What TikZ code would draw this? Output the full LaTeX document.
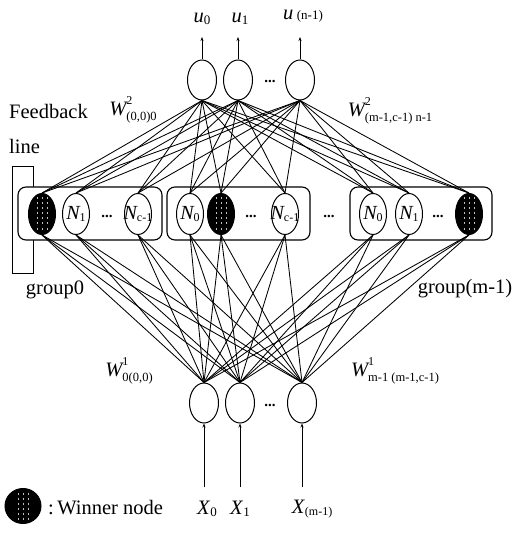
\documentclass[tikz,border=0pt]{standalone}
\usepackage{fontspec}
\setmainfont{Liberation Serif}
\usetikzlibrary{shapes.geometric,arrows.meta}
% weight label: italic W with a superscript stacked over a subscript
\newcommand\wlab[2]{\textit{W}\kern-1.5pt\makebox[0pt][l]{\raisebox{1.15ex}{\fontsize{12}{12}\selectfont #1}}\raisebox{-0.5ex}{\fontsize{12.5}{12}\selectfont #2}}
\newcommand\nlab[1]{\makebox[0pt]{\textit{N}\kern-1pt\raisebox{-0.3ex}{\fontsize{12}{12}\selectfont #1}}}
\begin{document}
\begin{tikzpicture}[x=1pt,y=-1pt,
  neuron/.style={ellipse, draw, line width=1pt, minimum width=29pt, minimum height=40pt,
    inner sep=0pt, fill=white, font=\fontsize{20}{20}\selectfont},
  cell/.style={neuron, minimum width=27pt, minimum height=41pt},
  winner/.style={cell, fill=black, path picture={
      \foreach \dx in {-5,0,5}
        \draw[white!75!black, line width=0.3pt, dash pattern=on 2pt off 3pt]
          ([xshift=\dx pt, yshift=-4pt]path picture bounding box.north) --
          ([xshift=\dx pt, yshift=4pt]path picture bounding box.south);}},
  link/.style={line width=0.85pt},
  io/.style={line width=0.85pt},
  groupbox/.style={draw, line width=1.1pt, rounded corners=8pt, fill=white},
  lbl/.style={font=\fontsize{20.5}{22}\selectfont, inner sep=0pt},
  dots/.style={font=\fontsize{15}{15}\selectfont\bfseries, inner sep=0pt}
]
\useasboundingbox (0,0) rectangle (517,534);

% feedback line, partly hidden behind the first group box
\draw[line width=1pt] (12,167) rectangle (33,273);

% group boxes
\draw[groupbox] (18,187) rectangle (162,240);
\draw[groupbox] (167,187) rectangle (310,240);
\draw[groupbox] (350,187) rectangle (492,240);

% output layer
\node[neuron] (u0) at (202,80) {};
\node[neuron] (u1) at (238,80) {};
\node[neuron] (un) at (300,80) {};
\node[dots] (udots) at (270,82) {...};

% competitive layer
\node[winner] (a1) at (42,214) {};
\node[cell]   (a2) at (76,214) {\nlab{1}};
\node[dots]   (d1) at (107,216) {...};
\node[cell]   (a3) at (138,214) {\nlab{c-1}};
\node[cell]   (a4) at (190,214) {\nlab{0}};
\node[winner] (a5) at (221,214) {};
\node[dots]   (d2) at (251,216) {...};
\node[cell]   (a6) at (285,214) {\nlab{c-1}};
\node[dots]   (d3) at (329,216) {...};
\node[cell]   (a7) at (373,214) {\nlab{0}};
\node[cell]   (a8) at (409,214) {\nlab{1}};
\node[dots]   (d4) at (438,216) {...};
\node[winner] (a9) at (469,214) {};

% input layer
\node[neuron] (x0) at (204,403) {};
\node[neuron] (x1) at (240,403) {};
\node[neuron] (xm) at (302,403) {};
\node[dots] (xdots) at (270,405) {...};

% full connections between the layers
\foreach \m in {1,...,9}{
  \foreach \t in {u0,u1,un}
    \draw[link] (\t.south) -- (a\m.north);
  \foreach \b in {x0,x1,xm}
    \draw[link] (a\m.south) -- (\b.north);
}

% outputs
\coordinate (u0t) at (202,37);
\coordinate (u1t) at (238,37);
\coordinate (unt) at (300,37);
\foreach \n in {u0,u1,un}
  \draw[io,-{Stealth[length=4pt,width=3pt]}] (\n.north) -- (\n t);
\node[lbl] (lu0) at (202,19) {\textit{u}\raisebox{-0.2ex}{\fontsize{13}{13}\selectfont 0}};
\node[lbl] (lu1) at (240,19) {\textit{u}\raisebox{-0.2ex}{\fontsize{13}{13}\selectfont 1}};
\node[lbl] (lun) at (303,16) {\textit{u}\,{\fontsize{13}{13}\selectfont(n-1)}};

% inputs
\coordinate (x0b) at (204,487);
\coordinate (x1b) at (240,487);
\coordinate (xmb) at (302,487);
\foreach \n in {x0,x1,xm}
  \draw[io,-{Stealth[length=4pt,width=3pt]}] (\n b) -- (\n.south);
\node[lbl] (lx0) at (207,509) {\textit{X}\raisebox{-0.2ex}{\fontsize{13}{13}\selectfont 0}};
\node[lbl] (lx1) at (240,509) {\textit{X}\raisebox{-0.2ex}{\fontsize{13}{13}\selectfont 1}};
\node[lbl] (lxm) at (312,509) {\textit{X}\raisebox{-0.3ex}{\fontsize{12}{12}\selectfont(m-1)}};

% text labels
\node[lbl, anchor=west] (fb) at (9,111) {Feedback};
\node[lbl, anchor=west] (fl) at (9,146) {line};
\node[lbl] (g0) at (55,290) {group0};
\node[lbl] (gm) at (465,289) {group(m-1)};
\node[lbl] (w2a) at (133,110) {\wlab{2}{(0,0)0}};
\node[lbl] (w2b) at (390,111) {\wlab{2}{(m-1,c-1) n-1}};
\node[lbl] (w1a) at (129,371) {\wlab{1}{0(0,0)}};
\node[lbl] (w1b) at (395,371) {\wlab{1}{m-1 (m-1,c-1)}};

% legend
\node[winner, minimum width=36pt, minimum height=35pt] (key) at (23,506) {};
\node[lbl, anchor=west] (keytxt) at (48,508) {:\,Winner node};
\end{tikzpicture}
\end{document}
